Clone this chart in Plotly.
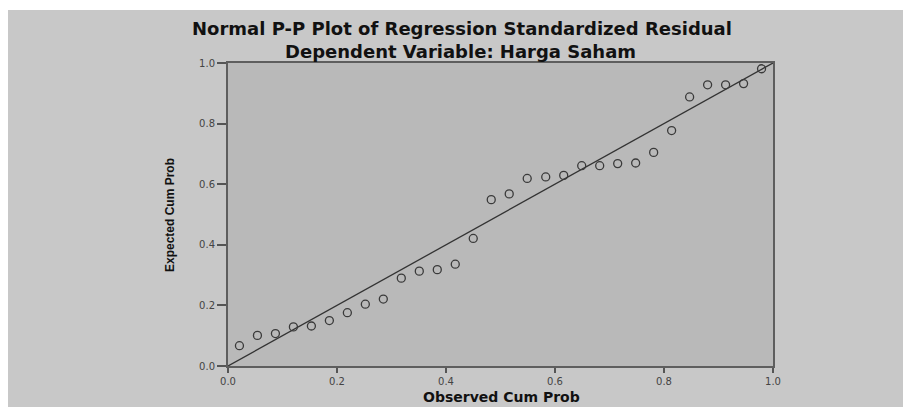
import plotly.graph_objects as go

# Observed cumulative probability (x) and expected cumulative probability (y)
observed_cum_prob = [0.021, 0.054, 0.087, 0.120, 0.153, 0.186, 0.219, 0.252, 0.285, 0.318,
                     0.351, 0.384, 0.417, 0.450, 0.483, 0.516, 0.549, 0.583, 0.616, 0.649,
                     0.682, 0.715, 0.748, 0.781, 0.814, 0.847, 0.880, 0.913, 0.946, 0.979]
expected_cum_prob = [0.067, 0.101, 0.107, 0.129, 0.132, 0.150, 0.176, 0.204, 0.221, 0.290,
                     0.313, 0.318, 0.336, 0.421, 0.549, 0.568, 0.619, 0.624, 0.629, 0.661,
                     0.661, 0.668, 0.670, 0.705, 0.777, 0.888, 0.928, 0.928, 0.932, 0.981]
reference_line = [0.0, 1.0]
tick_values = [0.0, 0.2, 0.4, 0.6, 0.8, 1.0]
tick_labels = ["0.0", "0.2", "0.4", "0.6", "0.8", "1.0"]

title_line1 = "Normal P-P Plot of Regression Standardized Residual"
title_line2 = "Dependent Variable: Harga Saham"
x_title = "Observed Cum Prob"
y_title = "Expected Cum Prob"

W, H = 903, 407
L, R, T, B = 228, 130, 63, 41
PW, PH = W - L - R, H - T - B


def px_x(p):
    return (p - L) / PW


def px_y(p):
    return (H - B - p) / PH


fig = go.Figure()
fig.add_trace(go.Scatter(x=reference_line, y=reference_line, mode="lines",
                         line=dict(color="#333333", width=1.3),
                         hoverinfo="skip", showlegend=False))
fig.add_trace(go.Scatter(x=observed_cum_prob, y=expected_cum_prob, mode="markers",
                         marker=dict(symbol="circle-open", size=8, color="#3a3a3a",
                                     line=dict(color="#3a3a3a", width=1.3)),
                         showlegend=False))

axis_common = dict(range=[0, 1], tickvals=tick_values, ticktext=tick_labels,
                   ticks="outside", ticklen=6, tickwidth=1.5, tickcolor="#555555",
                   showline=True, linecolor="#5e5e5e", linewidth=2, mirror=True,
                   showgrid=False, zeroline=False,
                   tickfont=dict(family="DejaVu Sans", size=10, color="#444444"))

fig.update_xaxes(**axis_common)
fig.update_yaxes(**axis_common)
fig.update_yaxes(ticklen=9)
fig.update_xaxes(ticklen=5)

fig.update_layout(
    width=W, height=H,
    margin=dict(l=L, r=R, t=T, b=B, pad=0),
    paper_bgcolor="#c8c8c8",
    plot_bgcolor="#b9b9b9",
    shapes=[
        dict(type="rect", xref="paper", yref="paper", x0=px_x(-5), x1=px_x(W + 5),
             y0=px_y(10), y1=px_y(-5), fillcolor="white", line=dict(width=0), layer="above"),
        dict(type="rect", xref="paper", yref="paper", x0=px_x(-5), x1=px_x(8),
             y0=px_y(H + 5), y1=px_y(-5), fillcolor="white", line=dict(width=0), layer="above"),
    ],
    annotations=[
        dict(text=title_line1, xref="paper", yref="paper", x=px_x(462), y=px_y(28),
             showarrow=False, xanchor="center", yanchor="middle",
             font=dict(family="DejaVu Sans", size=18, color="#111111", weight="bold")),
        dict(text=title_line2, xref="paper", yref="paper", x=px_x(460), y=px_y(52),
             showarrow=False, xanchor="center", yanchor="middle",
             font=dict(family="DejaVu Sans", size=18, color="#111111", weight="bold")),
        dict(text=x_title, xref="paper", yref="paper", x=px_x(501), y=px_y(397),
             showarrow=False, xanchor="center", yanchor="middle",
             font=dict(family="DejaVu Sans", size=14, color="#111111", weight="bold")),
        dict(text=y_title, xref="paper", yref="paper", x=px_x(170), y=px_y(215),
             showarrow=False, xanchor="center", yanchor="middle", textangle=-90,
             font=dict(family="Liberation Sans Narrow, Liberation Sans", size=12,
                       color="#111111", weight="bold")),
    ],
)

fig.write_html(
    "out.html",
    config={"displayModeBar": False},
    post_script=("document.body.style.margin='0px';"
                 "document.body.style.overflow='hidden';"
                 "document.documentElement.style.background='#c8c8c8';"
                 "document.body.style.background='#c8c8c8';"),
)
